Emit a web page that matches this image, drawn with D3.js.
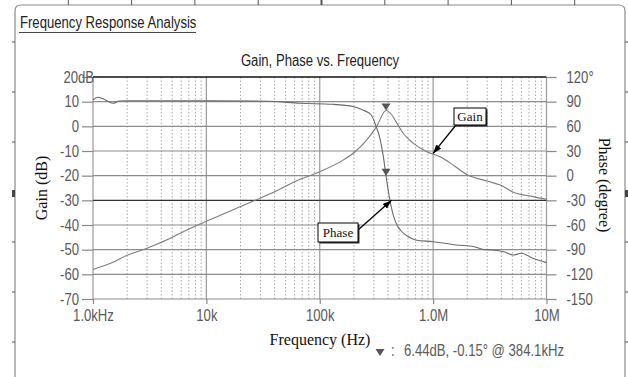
<!DOCTYPE html>
<html>
<head>
<meta charset="utf-8">
<script src="https://cdnjs.cloudflare.com/ajax/libs/d3/7.8.5/d3.min.js"></script>
<style>
  html, body { margin: 0; padding: 0; background: #fff; }
  svg { display: block; }
  .narrow { font-family: "Liberation Sans", Arial, sans-serif; }
  .serif { font-family: "Liberation Serif", "Times New Roman", serif; }
</style>
</head>
<body>
<svg id="chart" width="628" height="377"></svg>
<script>
// Gain trace: frequency (kHz) and gain (dB)
const gainFreqKHz = [1, 1.5, 2, 3, 4.5, 6, 8.8, 10, 20, 40, 67, 100, 162, 205, 260, 317, 384.1,
  433, 480, 545, 670, 880, 1150, 1400, 2000, 3000, 3900, 5100, 7600, 10000];
const gainDb = [-58, -55.1, -52.3, -49.4, -46, -43.1, -39.6, -38.5, -32.5, -26.5, -21.5, -18.4, -13.6,
  -10.3, -5.5, -0.1, 6.44, 4.6, 1.2, -2.8, -6.9, -10.3, -12.3, -14.7, -19.6, -22.2, -23.8, -26.7, -28.5, -29.6];

// Phase trace: frequency (kHz) and phase (degrees)
const phaseFreqKHz = [1, 1.1, 1.25, 1.5, 1.7, 2, 10, 35, 67, 130, 200, 240, 285, 310, 340, 365, 384.1,
  410, 445, 480, 520, 600, 700, 1000, 1600, 2300, 2800, 3300, 4200, 5100, 6000, 7600, 10000];
const phaseDeg = [92, 95.3, 93, 88, 90.8, 91.2, 91, 90.5, 88, 86.8, 83.9, 79.9, 73.8, 62, 45, 22, -0.15,
  -25, -48, -60, -67, -74, -78.2, -80.3, -84.3, -86.4, -90, -90.4, -92.5, -96.5, -94.4, -100.5, -105.8];

// Marker readout
const markerFreqKHz = 384.1;
const markerGainDb = 6.44;
const markerPhaseDeg = -0.15;

// Axis ticks and labels
const gainTicks = [20, 10, 0, -10, -20, -30, -40, -50, -60, -70];
const gainTickLabels = ["20dB", "10", "0", "-10", "-20", "-30", "-40", "-50", "-60", "-70"];
const phaseTicks = [120, 90, 60, 30, 0, -30, -60, -90, -120, -150];
const phaseTickLabels = ["120°", "90", "60", "30", "0", "-30", "-60", "-90", "-120", "-150"];
const freqTicksHz = [1e3, 1e4, 1e5, 1e6, 1e7];
const freqTickLabels = ["1.0kHz", "10k", "100k", "1.0M", "10M"];

const svg = d3.select("#chart");
const W = 628, H = 377;
const plot = { left: 93, right: 546.5, top: 77, bottom: 299 };
const SX = 0.82; // horizontal squeeze for the condensed UI face

const x = d3.scaleLog().domain([1e3, 1e7]).range([plot.left, plot.right]);
const yG = d3.scaleLinear().domain([-70, 20]).range([plot.bottom, plot.top]);
const yP = d3.scaleLinear().domain([-150, 120]).range([plot.bottom, plot.top]);

// squeeze text horizontally while keeping its anchor position
function condense(sel) {
  sel.each(function () {
    const t = d3.select(this);
    const xv = +t.attr("x") || 0;
    t.attr("x", xv / SX).attr("transform", `scale(${SX},1)`);
  });
}
function narrowText(px, py, size, fill, str, anchor) {
  return svg.append("text").attr("class", "narrow")
    .attr("x", px).attr("y", py).attr("font-size", size).attr("fill", fill)
    .attr("text-anchor", anchor || "start").text(str).call(condense);
}

svg.append("rect").attr("width", W).attr("height", H).attr("fill", "#fff");

// Panel frame with rounded top corners, open at the bottom
const fl = 15, fr = 625, ft = 5, rad = 6;
svg.append("path")
  .attr("d", `M${fl},${H + 2} L${fl},${ft + rad} Q${fl},${ft} ${fl + rad},${ft} L${fr - rad},${ft} Q${fr},${ft} ${fr},${ft + rad} L${fr},${H + 2}`)
  .attr("fill", "none").attr("stroke", "#8a8a8a").attr("stroke-width", 1.2);

// Ruler ticks around the frame
const topRuler = d3.range(9).map(i => 68.3 + i * 63.3);
svg.append("g").selectAll("line").data(topRuler).join("line")
  .attr("x1", d => d).attr("x2", d => d).attr("y1", 0).attr("y2", ft)
  .attr("stroke", "#555").attr("stroke-width", (d, i) => i === 4 ? 2 : 1);
const sideRuler = d3.range(7).map(i => 42 + i * 50);
[[fl - 3, fl], [fr, fr + 3]].forEach(([a, b]) => {
  svg.append("g").selectAll("line").data(sideRuler).join("line")
    .attr("x1", a).attr("x2", b).attr("y1", d => d).attr("y2", d => d)
    .attr("stroke", "#555").attr("stroke-width", 1);
  svg.append("rect").attr("x", a).attr("y", 190).attr("width", b - a).attr("height", 7).attr("fill", "#444");
});

// Panel heading
narrowText(20, 28, 16, "#222", "Frequency Response Analysis");
svg.append("line").attr("x1", 19).attr("x2", 196).attr("y1", 32.5).attr("y2", 32.5)
  .attr("stroke", "#444").attr("stroke-width", 1);

// Chart title
narrowText(320, 66, 16, "#222", "Gain, Phase vs. Frequency", "middle");

// Grid: minor dotted verticals
const minorFreqs = [];
for (let dec = 3; dec < 7; dec++) for (let m = 2; m <= 9; m++) minorFreqs.push(m * Math.pow(10, dec));
const grid = svg.append("g");
grid.selectAll("line.minor").data(minorFreqs).join("line").attr("class", "minor")
  .attr("x1", d => x(d)).attr("x2", d => x(d)).attr("y1", plot.top).attr("y2", plot.bottom)
  .attr("stroke", "#a8a8a8").attr("stroke-width", 1).attr("stroke-dasharray", "1.5,2");
// decade verticals
grid.selectAll("line.major").data(freqTicksHz).join("line").attr("class", "major")
  .attr("x1", d => x(d)).attr("x2", d => x(d)).attr("y1", plot.top).attr("y2", plot.bottom)
  .attr("stroke", "#9a9a9a").attr("stroke-width", 1.2);
// horizontals
grid.selectAll("line.h").data(gainTicks).join("line").attr("class", "h")
  .attr("x1", plot.left).attr("x2", plot.right)
  .attr("y1", d => yG(d)).attr("y2", d => yG(d))
  .attr("stroke", d => d === 20 ? "#111" : (d === -30 ? "#333" : "#8c8c8c"))
  .attr("stroke-width", d => d === 20 ? 1.3 : 1.2);

// Axes
const tickStyle = g => {
  g.select(".domain").remove();
  g.selectAll(".tick line").attr("stroke", "#888").attr("stroke-width", 1.2);
  g.selectAll(".tick text").attr("class", "narrow").attr("font-size", 16).attr("fill", "#5a5a5a");
};
const axL = svg.append("g").attr("transform", `translate(${plot.left},0)`)
  .call(d3.axisLeft(yG).tickValues(gainTicks).tickSize(11).tickPadding(3)
    .tickFormat((d, i) => gainTickLabels[i]))
  .call(tickStyle);
axL.selectAll(".tick text").filter(d => d === 20).attr("x", 1);
axL.selectAll(".tick text").call(condense);

const axR = svg.append("g").attr("transform", `translate(${plot.right},0)`)
  .call(d3.axisRight(yP).tickValues(phaseTicks).tickSize(10).tickPadding(10)
    .tickFormat((d, i) => phaseTickLabels[i]))
  .call(tickStyle);
axR.selectAll(".tick text").call(condense);

const axB = svg.append("g").attr("transform", `translate(0,${plot.bottom})`)
  .call(d3.axisBottom(x).tickValues(freqTicksHz).tickSize(5).tickPadding(6)
    .tickFormat((d, i) => freqTickLabels[i]))
  .call(tickStyle);
axB.selectAll(".tick text").call(condense);

// Axis titles
svg.append("text").attr("class", "serif")
  .attr("transform", `translate(47,188) rotate(-90)`).attr("text-anchor", "middle")
  .attr("font-size", 16).attr("fill", "#111").text("Gain (dB)");
svg.append("text").attr("class", "serif")
  .attr("transform", `translate(599,185) rotate(90)`).attr("text-anchor", "middle")
  .attr("font-size", 16).attr("fill", "#111").text("Phase (degree)");
svg.append("text").attr("class", "serif")
  .attr("x", 320).attr("y", 345).attr("text-anchor", "middle")
  .attr("font-size", 16).attr("fill", "#111").text("Frequency (Hz)");

// Traces
const gainData = gainFreqKHz.map((f, i) => [f * 1e3, gainDb[i]]);
const phaseData = phaseFreqKHz.map((f, i) => [f * 1e3, phaseDeg[i]]);
svg.append("path").datum(gainData)
  .attr("d", d3.line().x(d => x(d[0])).y(d => yG(d[1])).curve(d3.curveMonotoneX))
  .attr("fill", "none").attr("stroke", "#7c7c7c").attr("stroke-width", 1.1);
svg.append("path").datum(phaseData)
  .attr("d", d3.line().x(d => x(d[0])).y(d => yP(d[1])).curve(d3.curveMonotoneX))
  .attr("fill", "none").attr("stroke", "#6a6a6a").attr("stroke-width", 1.1);

// Marker triangles (tip on the trace)
const tri = (cx, cy) => `M${cx - 4.5},${cy - 7} L${cx + 4.5},${cy - 7} L${cx},${cy} Z`;
const mx = x(markerFreqKHz * 1e3);
svg.append("path").attr("d", tri(mx, yG(markerGainDb))).attr("fill", "#555");
svg.append("path").attr("d", tri(mx, yP(markerPhaseDeg))).attr("fill", "#555");

// Marker readout
svg.append("path").attr("d", tri(380, 356)).attr("fill", "#555");
narrowText(391, 356, 16, "#5a5a5a", ":");
narrowText(404, 356, 16, "#5a5a5a",
  `${markerGainDb.toFixed(2)}dB, ${markerPhaseDeg.toFixed(2)}° @ ${markerFreqKHz.toFixed(1)}kHz`);

// Callouts
svg.append("defs").append("marker").attr("id", "arrow")
  .attr("viewBox", "0 0 10 10").attr("refX", 10).attr("refY", 5)
  .attr("markerWidth", 9).attr("markerHeight", 9).attr("markerUnits", "userSpaceOnUse")
  .attr("orient", "auto")
  .append("path").attr("d", "M0,1.5 L10,5 L0,8.5 Z").attr("fill", "#000");

function callout(label, bx, by, bw, bh, fromX, fromY, toFreqHz, toY) {
  svg.append("line").attr("x1", fromX).attr("y1", fromY)
    .attr("x2", x(toFreqHz)).attr("y2", toY)
    .attr("stroke", "#000").attr("stroke-width", 1.3).attr("marker-end", "url(#arrow)");
  svg.append("rect").attr("x", bx + 1.5).attr("y", by + 1.5).attr("width", bw).attr("height", bh).attr("fill", "#333");
  svg.append("rect").attr("x", bx).attr("y", by).attr("width", bw).attr("height", bh)
    .attr("fill", "#fff").attr("stroke", "#000").attr("stroke-width", 1);
  svg.append("text").attr("class", "serif").attr("x", bx + bw / 2).attr("y", by + bh / 2 + 4.5)
    .attr("text-anchor", "middle").attr("font-size", 13).attr("fill", "#111").text(label);
}
callout("Gain", 454, 108, 32, 17, 456, 125, 1.0e6, yG(-11));
callout("Phase", 318, 223, 40, 19, 358, 230, 4.3e5, yP(-30));
</script>
</body>
</html>
